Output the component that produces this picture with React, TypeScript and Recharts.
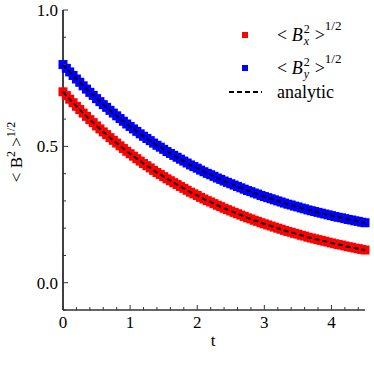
import { ComposedChart, Line, Scatter, XAxis, YAxis } from 'recharts'

// time samples and the two field components
const tValues = [
  0, 0.05, 0.1, 0.15, 0.2, 0.25, 0.3, 0.35, 0.4, 0.45, 0.5, 0.55, 0.6, 0.65, 0.7, 0.75, 0.8, 0.85, 0.9, 0.95,
  1.0, 1.05, 1.1, 1.15, 1.2, 1.25, 1.3, 1.35, 1.4, 1.45, 1.5, 1.55, 1.6, 1.65, 1.7, 1.75, 1.8, 1.85, 1.9, 1.95,
  2.0, 2.05, 2.1, 2.15, 2.2, 2.25, 2.3, 2.35, 2.4, 2.45, 2.5, 2.55, 2.6, 2.65, 2.7, 2.75, 2.8, 2.85, 2.9, 2.95,
  3.0, 3.05, 3.1, 3.15, 3.2, 3.25, 3.3, 3.35, 3.4, 3.45, 3.5, 3.55, 3.6, 3.65, 3.7, 3.75, 3.8, 3.85, 3.9, 3.95,
  4.0, 4.05, 4.1, 4.15, 4.2, 4.25, 4.3, 4.35, 4.4, 4.45, 4.5,
]
const bxValues = [
  0.700, 0.686, 0.673, 0.660, 0.647, 0.635, 0.622, 0.610, 0.598, 0.587, 0.575, 0.564, 0.553, 0.543, 0.532, 0.522, 0.512, 0.502, 0.492, 0.482,
  0.473, 0.464, 0.455, 0.446, 0.437, 0.429, 0.421, 0.412, 0.404, 0.397, 0.389, 0.381, 0.374, 0.367, 0.360, 0.353, 0.346, 0.339, 0.332, 0.326,
  0.320, 0.313, 0.307, 0.301, 0.296, 0.290, 0.284, 0.279, 0.273, 0.268, 0.263, 0.258, 0.253, 0.248, 0.243, 0.238, 0.234, 0.229, 0.225, 0.220,
  0.216, 0.212, 0.208, 0.204, 0.200, 0.196, 0.192, 0.188, 0.185, 0.181, 0.178, 0.174, 0.171, 0.167, 0.164, 0.161, 0.158, 0.155, 0.152, 0.149,
  0.146, 0.143, 0.140, 0.138, 0.135, 0.132, 0.130, 0.127, 0.125, 0.122, 0.120,
]
const byValues = [
  0.800, 0.786, 0.773, 0.760, 0.747, 0.735, 0.722, 0.710, 0.698, 0.687, 0.675, 0.664, 0.653, 0.643, 0.632, 0.622, 0.612, 0.602, 0.592, 0.582,
  0.573, 0.564, 0.555, 0.546, 0.537, 0.529, 0.521, 0.512, 0.504, 0.497, 0.489, 0.481, 0.474, 0.467, 0.460, 0.453, 0.446, 0.439, 0.432, 0.426,
  0.420, 0.413, 0.407, 0.401, 0.396, 0.390, 0.384, 0.379, 0.373, 0.368, 0.363, 0.358, 0.353, 0.348, 0.343, 0.338, 0.334, 0.329, 0.325, 0.320,
  0.316, 0.312, 0.308, 0.304, 0.300, 0.296, 0.292, 0.288, 0.285, 0.281, 0.278, 0.274, 0.271, 0.267, 0.264, 0.261, 0.258, 0.255, 0.252, 0.249,
  0.246, 0.243, 0.240, 0.238, 0.235, 0.232, 0.230, 0.227, 0.225, 0.222, 0.220,
]

const xTicks = [0, 0.2, 0.4, 0.6, 0.8, 1, 1.2, 1.4, 1.6, 1.8, 2, 2.2, 2.4, 2.6, 2.8, 3, 3.2, 3.4, 3.6, 3.8, 4, 4.2, 4.4]
const yTicks = [-0.1, 0, 0.1, 0.2, 0.3, 0.4, 0.5, 0.6, 0.7, 0.8, 0.9, 1.0]
const yMajor = [0, 0.5, 1.0]

const data = tValues.map((t, i) => ({ t, bx: bxValues[i], by: byValues[i] }))

const FONT = '"Liberation Serif", "Times New Roman", Times, "DejaVu Serif", serif'
const isXMajor = (v: number) => Math.abs(v - Math.round(v)) < 1e-6
const isYMajor = (v: number) => yMajor.some(m => Math.abs(m - v) < 1e-6)

// eslint-disable-next-line @typescript-eslint/no-explicit-any
function BottomTick({ x, y, payload }: any) {
  const major = isXMajor(payload.value)
  return (
    <g>
      <line x1={x} y1={y} x2={x} y2={y - (major ? 5 : 3)} stroke="#333" strokeWidth={1} />
      {major && (
        <text x={x} y={y + 18} textAnchor="middle" fontFamily={FONT} fontSize={17} fill="#000">
          {Math.round(payload.value)}
        </text>
      )}
    </g>
  )
}

// eslint-disable-next-line @typescript-eslint/no-explicit-any
function TopTick({ x, y, payload }: any) {
  const major = isXMajor(payload.value)
  return <line x1={x} y1={y} x2={x} y2={y + (major ? 5 : 3)} stroke="#555" strokeWidth={1} />
}

// eslint-disable-next-line @typescript-eslint/no-explicit-any
function LeftTick({ x, y, payload }: any) {
  const major = isYMajor(payload.value)
  return (
    <g>
      <line x1={x} y1={y} x2={x + (major ? 5 : 3)} y2={y} stroke="#333" strokeWidth={1} />
      {major && (
        <text x={x - 5} y={y + 6} textAnchor="end" fontFamily={FONT} fontSize={17} fill="#000">
          {payload.value.toFixed(1)}
        </text>
      )}
    </g>
  )
}

// eslint-disable-next-line @typescript-eslint/no-explicit-any
function RightTick({ x, y, payload }: any) {
  const major = isYMajor(payload.value)
  return <line x1={x} y1={y} x2={x - (major ? 5 : 3)} y2={y} stroke="#555" strokeWidth={1} />
}

function square(color: string) {
  // eslint-disable-next-line @typescript-eslint/no-explicit-any
  return (p: any) => <rect x={p.cx - 4.5} y={p.cy - 4.5} width={9} height={9} fill={color} />
}

function LegendLabel({ sub }: { sub: string }) {
  return (
    <span style={{ whiteSpace: 'nowrap', display: 'inline-flex', alignItems: 'center' }}>
      <span>&lt;&nbsp;</span>
      <i>B</i>
      <span
        style={{
          display: 'inline-flex', flexDirection: 'column', fontSize: 12, lineHeight: '12px',
          marginLeft: 1, marginRight: 5,
        }}
      >
        <span>2</span>
        <i>{sub}</i>
      </span>
      <span>&gt;</span>
      <span style={{ fontSize: 13, alignSelf: 'flex-start', marginTop: -5 }}>1/2</span>
    </span>
  )
}

export default function App() {
  return (
    <div style={{ position: 'relative', width: 374, height: 374, background: '#fff' }}>
      <style>{'body{margin:0}'}</style>
      <ComposedChart width={374} height={374} data={data} margin={{ top: 10, right: 9, bottom: 0, left: 0 }}>
        <XAxis
          xAxisId="b" dataKey="t" type="number" domain={[0, 4.5]} ticks={xTicks} interval={0}
          height={64} tickSize={0} tickMargin={0} tick={<BottomTick />}
          axisLine={{ stroke: '#333', strokeWidth: 1.5 }} tickLine={false}
          label={{ content: () => <text x={213} y={346} textAnchor="middle" fontFamily={FONT} fontSize={17}>t</text> }}
        />
        <XAxis
          xAxisId="tp" dataKey="t" type="number" domain={[0, 4.5]} ticks={xTicks} interval={0}
          orientation="top" height={0} tickSize={0} tickMargin={0} tick={<TopTick />}
          axisLine={{ stroke: '#888', strokeWidth: 1 }} tickLine={false}
        />
        <YAxis
          yAxisId="l" type="number" domain={[-0.1, 1.0]} ticks={yTicks} interval={0}
          width={63} tickSize={0} tickMargin={0} tick={<LeftTick />}
          axisLine={{ stroke: '#000', strokeWidth: 1.5 }} tickLine={false}
          label={{
            content: () => (
              <text
                x={22} y={152} transform="rotate(-90 22 152)" textAnchor="middle"
                fontFamily={FONT} fontSize={17} fill="#000"
              >
                &lt; B<tspan dy={-7} fontSize={12}>2</tspan>
                <tspan dy={7}> &gt;</tspan>
                <tspan dy={-7} fontSize={12}>1/2</tspan>
              </text>
            ),
          }}
        />
        <YAxis
          yAxisId="r" type="number" domain={[-0.1, 1.0]} ticks={yTicks} interval={0}
          orientation="right" width={0} tickSize={0} tickMargin={0} tick={<RightTick />}
          axisLine={{ stroke: '#7a7a7a', strokeWidth: 2 }} tickLine={false}
        />
        <Scatter xAxisId="b" yAxisId="l" dataKey="bx" fill="#ff0000" shape={square('#ff0000')} isAnimationActive={false} />
        <Scatter xAxisId="b" yAxisId="l" dataKey="by" fill="#0000ff" shape={square('#0000ff')} isAnimationActive={false} />
        <Line
          xAxisId="b" yAxisId="l" dataKey="bx" type="monotone" stroke="#000" strokeWidth={2}
          strokeDasharray="5 3" dot={false} activeDot={false} isAnimationActive={false} zIndex={1100}
        />
        <Line
          xAxisId="b" yAxisId="l" dataKey="by" type="monotone" stroke="#000" strokeWidth={2}
          strokeDasharray="5 3" dot={false} activeDot={false} isAnimationActive={false} zIndex={1100}
        />
      </ComposedChart>
      <div style={{ position: 'absolute', left: 226, top: 22, fontFamily: FONT, fontSize: 18, color: '#000' }}>
        <div style={{ display: 'flex', alignItems: 'center', height: 26, marginBottom: 7 }}>
          <span style={{ width: 38, display: 'flex', justifyContent: 'center' }}>
            <span style={{ width: 6, height: 6, background: '#ff0000', display: 'inline-block' }} />
          </span>
          <span style={{ marginLeft: 13 }}><LegendLabel sub="x" /></span>
        </div>
        <div style={{ display: 'flex', alignItems: 'center', height: 26 }}>
          <span style={{ width: 38, display: 'flex', justifyContent: 'center' }}>
            <span style={{ width: 6, height: 6, background: '#0000ff', display: 'inline-block' }} />
          </span>
          <span style={{ marginLeft: 13 }}><LegendLabel sub="y" /></span>
        </div>
        <div style={{ display: 'flex', alignItems: 'center', height: 22 }}>
          <svg width={38} height={6}>
            <line x1={3} y1={3} x2={36} y2={3} stroke="#000" strokeWidth={2} strokeDasharray="5 3" />
          </svg>
          <span style={{ marginLeft: 13 }}>analytic</span>
        </div>
      </div>
    </div>
  )
}
